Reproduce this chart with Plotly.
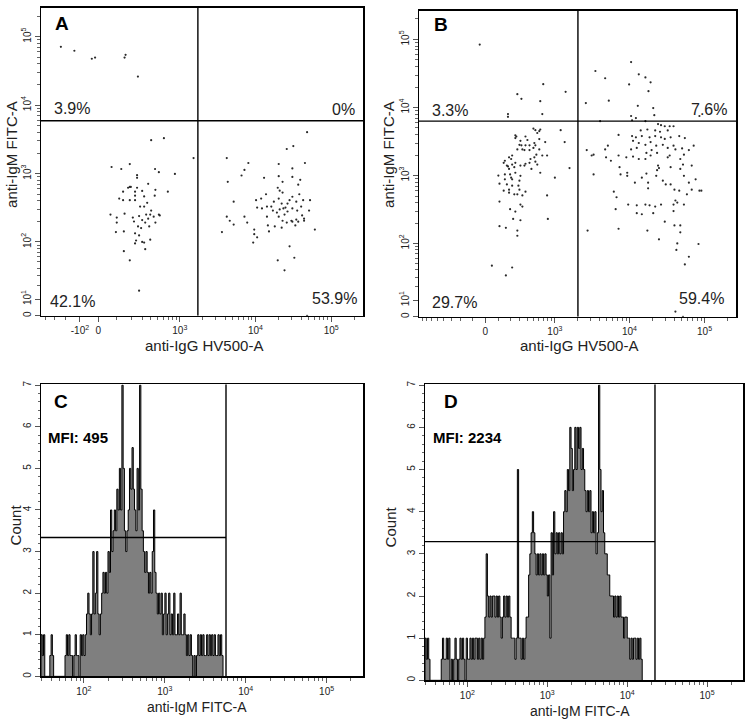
import numpy as np
import plotly.graph_objects as go

W, H = 747, 728
FONT = "Liberation Sans, Arial, Helvetica, sans-serif"

# ---------------- data ----------------
# Panel A: anti-IgG HV500-A (x) vs anti-IgM FITC-A (y)
a_x = [-238, -135, -34, -17, 150, 157, 257,
       405, 610, 1525, 70, 128, 188, 249, 460, 520, 860,
       64, 95, 100, 100, 115, 140, 140, 150, 175, 188,
       196, 188, 145, 145, 188, 212, 222, 231, 231, 231,
       249, 249, 258, 268, 268, 288, 299, 278, 299, 320,
       320, 320, 231, 240, 332, 332, 343, 355, 367, 367,
       380, 393, 393, 405, 440, 455, 465, 465, 520, 535,
       690, 268, 299, 231,
       48000, 31600, 25900, 4190, 8070, 45000, 7170, 20300, 6560, 30700,
       13000, 20300, 30700, 39000, 4320, 22800, 36700, 19700, 20900, 22800,
       13800, 11900, 10200, 5170, 17500, 20300, 30700, 37900, 52500, 42600,
       10540, 12200, 14200, 16200, 22200, 28200, 34600, 40100, 51000, 19200,
       23400, 24900, 20900, 26500, 30700, 35600, 41300, 43800, 34600, 29800,
       24200, 20300, 22800, 25900, 30700, 36700, 43800, 14200, 14600, 18000,
       22200, 4190, 4590, 5170, 7170, 7800, 9650, 9650, 10540, 9350,
       15100, 3620, 60800, 28200, 32600, 19700, 24200, 33600, 26500, 17000,
       48000]
a_y = [71100, 62200, 47600, 49500, 49500, 54300, 26100,
       3080, 3300, 1690, 1250, 1170, 1380, 950, 1170, 1050, 990,
       252, 140, 228, 193, 432, 545, 410, 260, 622, 640,
       640, 410, 143, 73, 53, 228, 200, 545, 477, 410,
       870, 622, 169, 240, 125, 160, 560, 330, 210, 465,
       330, 98, 95, 105, 78, 193, 252, 375, 711, 220,
       169, 108, 252, 289, 235, 477, 580, 193, 252, 245,
       545, 16, 100, 134,
       4030, 2530, 2290, 1690, 1430, 1430, 1134, 1384, 940, 1190,
       870, 920, 897, 812, 760, 760, 690, 622, 565, 530,
       500, 432, 410, 390, 390, 432, 460, 500, 410, 410,
       320, 310, 330, 330, 365, 410, 390, 330, 289, 270,
       310, 320, 300, 280, 310, 289, 245, 205, 213, 205,
       252, 235, 205, 193, 199, 199, 220, 235, 175, 169,
       162, 235, 205, 180, 235, 193, 152, 130, 117, 98,
       143, 140, 152, 86, 58, 53, 37, 175, 365, 289,
       0]

# Panel B
b_x = [-41, 276, 324, 690, 626, 1400, 181, 669, 181,
       254, 265, 254, 377, 404, 498, 532, 606, 626, 567,
       312, 300, 324, 276, 336, 377, 363, 435, 435, 514,
       498, 532, 606, 735, 606, 550, 514, 450, 669, 781,
       221, 191, 153, 211, 171, 221, 254, 363, 435, 191,
       254, 211, 300, 312, 465, 626, 1000, 1200, 1360, 1580,
       532, 143, 181, 243, 312, 377, 567, 99, 153, 201,
       153, 221, 108, 171, 221, 288, 143, 191, 243, 276,
       300, 336, 377, 191, 108, 312, 336, 201, 254, 231,
       312, 108, 162, 276, 276, 781, 800, 49, 221, 162,
       10500, 3510, 4740, 13300, 16300, 19100, 9890, 17900, 2617, 5300,
       12900, 20700, 21400, 10500, 12170, 10820, 16300, 4060, 85400,
       24000, 26300, 29500, 34300, 38600, 14100, 17300, 22000, 25500, 32300,
       7150, 10820, 12170, 14600, 18500, 22000, 26300, 29500, 35300, 46000,
       54600, 11150, 13300, 16300, 19100, 22700, 27800, 32300, 38600, 50200,
       71600, 10500, 12500, 16800, 19700, 23300, 34300, 40900, 53100, 61800,
       2690, 3130, 3320, 4740, 5150, 4870, 5650, 7150, 9070, 11150,
       13300, 16300, 19100, 24000, 24700, 32300, 35300, 47500, 51600, 67400,
       7370, 7600, 9330, 9330, 3320, 11800, 14600, 16800, 17700, 17700,
       22700, 23300, 27800, 30400, 35300, 39700, 46000, 47500, 53100, 61800,
       67400, 76000, 85400, 90600, 58200, 53100, 6180, 6720, 6540, 9610,
       12500, 14600, 16300, 18500, 22000, 26300, 38600, 40900, 43300, 12500,
       20700, 38600, 29500, 39700, 47500, 47500, 2760, 7150, 17300, 24700,
       43300, 42100, 83000, 61800, 54600, 40900, 51600]
b_y = [84000, 15700, 13400, 22000, 12400, 17000, 8000, 8000, 7300,
       3900, 3750, 3550, 3750, 3330, 4900, 4650, 4500, 4750, 4220,
       3240, 2830, 2780, 2420, 2420, 2780, 2370, 2780, 2370, 3010,
       2550, 2780, 3440, 3100, 2420, 2030, 1850, 1750, 1970, 1970,
       1970, 1850, 1650, 1750, 1400, 1450, 1540, 1400, 1540, 1250,
       1100, 930, 840, 990, 1250, 1100, 930, 4650, 3100, 1290,
       1600, 1540, 1360, 1330, 1400, 1490, 1450, 1000, 1040, 1040,
       880, 880, 760, 740, 710, 710, 600, 561, 530, 530,
       620, 510, 580, 620, 415, 375, 350, 320, 295, 230,
       220, 180, 170, 155, 130, 510, 230, 46, 43, 32,
       46500, 34400, 26900, 30700, 27700, 23400, 21800, 17400, 11600, 12600,
       10600, 9800, 7700, 7500, 7000, 6500, 6300, 6300, 7500,
       5700, 5500, 5300, 5300, 5300, 4600, 4750, 4600, 4400, 4600,
       3950, 3800, 3650, 3800, 3650, 3800, 3650, 3450, 3650, 3800,
       3550, 3240, 3010, 2830, 3100, 2750, 2830, 2550, 2750, 2500,
       2750, 2420, 2550, 2150, 2370, 2150, 1970, 2420, 2030, 2370,
       2370, 1970, 2030, 2420, 2750, 1850, 1650, 1970, 1850, 1900,
       1750, 1750, 1970, 1400, 1290, 1850, 1330, 1750, 1450, 1400,
       1330, 1040, 1100, 990, 1040, 785, 930, 1070, 785, 650,
       990, 1200, 840, 740, 740, 620, 600, 1250, 990, 785,
       620, 880, 600, 600, 530, 375, 580, 480, 320, 375,
       365, 270, 375, 365, 350, 375, 375, 430, 401, 280,
       280, 300, 210, 185, 185, 146, 155, 165, 155, 115,
       100, 80, 98, 63, 48, 3, 0]

a_gate_x, a_gate_y = 1740, 5930
b_gate_x, b_gate_y = 2050, 6310
a_pct = ["3.9%", "0%", "42.1%", "53.9%"]
b_pct = ["3.3%", "7.6%", "29.7%", "59.4%"]

# Panels C / D: histogram counts of anti-IgM FITC-A, 64 bins per decade from 29.5
hist_lo = 29.5
bins_per_decade = 64
c_counts = [1, 0.5, 1, 0, 0, 0, 0, 0.5, 1, 0.5,
            0, 0, 0, 0, 0, 0, 0, 0, 0, 0.5,
            1, 0.5, 1, 0.5, 0.5, 0, 0.5, 1, 0.5, 0.5,
            0, 1, 0.5, 1, 0.5, 1, 1.5, 2, 1.5, 1,
            1.5, 3, 1.5, 2, 3, 1.5, 1, 1.5, 2, 2.5,
            2, 2.5, 2, 3, 2.5, 4, 3, 3.5, 4, 3.5,
            4.5, 4, 5, 4, 7, 5, 3.5, 3, 3.5, 4,
            5, 4.5, 5.5, 4.5, 4, 3.5, 5, 4, 7, 4.5,
            3.5, 3, 2.5, 3, 2.5, 2, 2.5, 2, 3, 4,
            2.5, 2, 1.5, 2, 1.5, 2, 1, 1.5, 2, 1,
            1.5, 2, 1, 1.5, 1, 2, 1, 1, 1.5, 1,
            2, 1, 1, 1.5, 1, 0.5, 1, 0.5, 1, 0.5,
            0, 0.5, 0, 0.5, 1, 0.5, 1, 0.5, 1, 0.5,
            0.5, 1, 0.5, 1, 0.5, 1, 0.5, 1, 0.5, 0.5,
            1, 0.5, 1, 0.5]
d_counts = [1, 0.5, 1, 0.5, 0, 0, 0, 0, 0, 0,
            0, 0, 0, 0.5, 1, 0.5, 0.5, 1, 0.5, 1,
            0, 0.5, 0, 0.5, 1, 0.5, 0, 0.5, 1, 0.5,
            1, 0.5, 0, 1, 0.5, 0.5, 1, 0.5, 1, 0.5,
            1, 1, 0.5, 1, 0.5, 1, 0.5, 1, 1.5, 3,
            2, 1.5, 2, 1.5, 2, 2, 1.5, 2, 1.5, 2,
            1.5, 1, 1.5, 2, 1.5, 2, 1.5, 2, 1.5, 1,
            1, 1, 0.5, 1, 5, 1, 1, 0.5, 1, 0.5,
            1, 1.5, 1.5, 2.5, 3, 3.5, 4, 3.5, 3, 2.5,
            3, 2.5, 3, 2.5, 3, 2.5, 3, 2.5, 2, 2.5,
            1, 3.5, 2.5, 4, 3, 3.5, 3, 3.5, 3, 3.5,
            3, 4, 4.5, 4, 5, 4.5, 6, 5.5, 4.5, 5,
            6, 5, 6, 5.5, 6, 5, 5.5, 5, 4.5, 4,
            4.5, 4, 4.5, 3.5, 4, 3.5, 4, 3, 3.5, 7,
            5, 4, 4.5, 3.5, 3, 3, 2.5, 2.5, 2, 2,
            2, 1.5, 2, 1.5, 2, 1.5, 2, 1.5, 1.5, 1,
            1.5, 1.5, 1, 1, 0.5, 1, 0.5, 1, 1, 0.5,
            1, 0.5, 1, 0.5]
c_gate_x, c_gate_y = 5710, 3.34
d_gate_x, d_gate_y = 22300, 3.29
c_mfi, d_mfi = "MFI: 495", "MFI: 2234"

# ---------------- scales ----------------
def biex(v, c):
    return np.arcsinh(np.asarray(v, dtype=float) / (2 * c)) / np.log(10)

AX_C, BX_C, SY_C = 85.0, 120.0, 8.4
AX_LO, BX_LO, TOP = -470, -900, 262144
HIST_RANGE = [1.47, 5.45]


def sup(k):
    return "10<sup>%d</sup>" % k


def px_x(p):
    return p / W


def px_y(p):
    return 1 - p / H


fig = go.Figure()

dot = dict(size=2.2, color="#2a2a2a")
fig.add_trace(go.Scatter(x=biex(a_x, AX_C), y=biex(a_y, SY_C), mode="markers",
                         marker=dot, xaxis="x", yaxis="y", hoverinfo="skip"))
fig.add_trace(go.Scatter(x=biex(b_x, BX_C), y=biex(b_y, SY_C), mode="markers",
                         marker=dot, xaxis="x2", yaxis="y2", hoverinfo="skip"))

gl = dict(color="black", width=1.4)
for gx, gy, cx, xa, ya, lo in [(a_gate_x, a_gate_y, AX_C, "x", "y", AX_LO),
                               (b_gate_x, b_gate_y, BX_C, "x2", "y2", BX_LO)]:
    fig.add_trace(go.Scatter(x=[biex(gx, cx)] * 2, y=[biex(0, SY_C), biex(TOP, SY_C)],
                             mode="lines", line=gl, xaxis=xa, yaxis=ya, hoverinfo="skip"))
    fig.add_trace(go.Scatter(x=[biex(lo, cx), biex(TOP, cx)], y=[biex(gy, SY_C)] * 2,
                             mode="lines", line=gl, xaxis=xa, yaxis=ya, hoverinfo="skip"))

for counts, xa, ya, gx, gy in [(c_counts, "x3", "y3", c_gate_x, c_gate_y),
                               (d_counts, "x4", "y4", d_gate_x, d_gate_y)]:
    n = len(counts)
    edges = hist_lo * 10 ** (np.arange(n + 1) / bins_per_decade)
    xs = [edges[0]] + list(edges)
    ys = [0] + list(counts) + [0]
    fig.add_trace(go.Scatter(x=xs, y=ys, mode="lines", line_shape="hv",
                             line=dict(color="black", width=1), fill="tozeroy",
                             fillcolor="#7f7f7f", xaxis=xa, yaxis=ya, hoverinfo="skip"))
    fig.add_trace(go.Scatter(x=[gx, gx], y=[0, 7.02], mode="lines", line=gl,
                             xaxis=xa, yaxis=ya, hoverinfo="skip"))
    fig.add_trace(go.Scatter(x=[10 ** HIST_RANGE[0], gx], y=[gy, gy], mode="lines", line=gl,
                             xaxis=xa, yaxis=ya, hoverinfo="skip"))

tickfont = dict(family=FONT, size=10, color="#222")
base = dict(showline=True, linecolor="black", linewidth=1.5, mirror=True,
            ticks="outside", ticklen=5, tickwidth=1, tickcolor="#555",
            showgrid=False, zeroline=False, tickfont=tickfont, fixedrange=True)

dec_minor = [m * 10 ** k for k in range(1, 5) for m in range(2, 10)] + [200000]
hist_minor = [m * 10 ** k for k in range(1, 5) for m in range(2, 10)] + [200000]
ax_minor = [-400, -300, -200] + [m * 100 for m in range(1, 10)] + \
           [m * 10 ** k for k in range(3, 5) for m in range(2, 10)] + [200000]
bx_minor = [-800, -700, -600, -500, -400, -300, -200, -100] + [m * 100 for m in range(1, 10)] + \
           [m * 10 ** k for k in range(3, 5) for m in range(2, 10)] + [200000]

minor_style = dict(ticks="outside", ticklen=3, tickcolor="#666", tickwidth=1, showgrid=False)

y_scatter = dict(base, range=[biex(0, SY_C), biex(TOP, SY_C)],
                 tickvals=list(biex([0, 10, 100, 1000, 1e4, 1e5], SY_C)),
                 ticktext=["0", sup(1), sup(2), sup(3), sup(4), sup(5)], tickangle=-90,
                 minor=dict(minor_style, tickvals=list(biex(dec_minor, SY_C))))

layout = dict(
    width=W, height=H, margin=dict(l=0, r=0, t=0, b=0, pad=0),
    paper_bgcolor="white", plot_bgcolor="white", showlegend=False,
    xaxis=dict(base, domain=[px_x(41), px_x(363)], anchor="y",
               range=[biex(AX_LO, AX_C), biex(TOP, AX_C)],
               tickvals=list(biex([-100, 0, 1000, 1e4, 1e5], AX_C)),
               ticktext=["-10<sup>2</sup>", "0", sup(3), sup(4), sup(5)],
               minor=dict(minor_style, tickvals=list(biex(ax_minor, AX_C)))),
    yaxis=dict(y_scatter, domain=[px_y(314), px_y(4)], anchor="x"),
    xaxis2=dict(base, domain=[px_x(419), px_x(736)], anchor="y2",
                range=[biex(BX_LO, BX_C), biex(TOP, BX_C)],
                tickvals=list(biex([0, 1000, 1e4, 1e5], BX_C)),
                ticktext=["0", sup(3), sup(4), sup(5)],
                minor=dict(minor_style, tickvals=list(biex(bx_minor, BX_C)))),
    yaxis2=dict(y_scatter, domain=[px_y(315), px_y(7)], anchor="x2"),
    xaxis3=dict(base, type="log", domain=[px_x(41), px_x(363)], anchor="y3",
                range=HIST_RANGE, tickvals=[100, 1000, 1e4, 1e5],
                ticktext=[sup(2), sup(3), sup(4), sup(5)],
                minor=dict(minor_style, tickvals=hist_minor)),
    yaxis3=dict(base, domain=[px_y(677), px_y(383)], anchor="x3", range=[0, 7.02],
                tickvals=list(range(8)), tickangle=-90,
                minor=dict(minor_style, ticklen=2, dtick=0.2)),
    xaxis4=dict(base, type="log", domain=[px_x(425), px_x(743)], anchor="y4",
                range=HIST_RANGE, tickvals=[100, 1000, 1e4, 1e5],
                ticktext=[sup(2), sup(3), sup(4), sup(5)],
                minor=dict(minor_style, tickvals=hist_minor)),
    yaxis4=dict(base, domain=[px_y(681), px_y(383)], anchor="x4", range=[0, 7.02],
                tickvals=list(range(8)), tickangle=-90,
                minor=dict(minor_style, ticklen=2, dtick=0.2)),
)
fig.update_layout(**layout)


def note(text, x, y, size=16, bold=False, xanchor="center", angle=0, color="#222"):
    fig.add_annotation(text="<b>%s</b>" % text if bold else text,
                       x=px_x(x), y=px_y(y), xref="paper", yref="paper",
                       showarrow=False, xanchor=xanchor, yanchor="middle",
                       textangle=angle, font=dict(family=FONT, size=size, color=color))


note("A", 53, 20, size=19, bold=True, xanchor="left", color="black")
note("B", 432, 21, size=19, bold=True, xanchor="left", color="black")
note("C", 52, 400, size=19, bold=True, xanchor="left", color="black")
note("D", 442, 400, size=19, bold=True, xanchor="left", color="black")

note(a_pct[0], 52, 105, xanchor="left")
note(a_pct[1], 357, 106, xanchor="right")
note(a_pct[2], 48, 300, xanchor="left")
note(a_pct[3], 359, 297, xanchor="right")
note(b_pct[0], 430, 107, xanchor="left")
note(b_pct[1], 729, 106, xanchor="right")
note(b_pct[2], 430, 301, xanchor="left")
note(b_pct[3], 726, 297, xanchor="right")

note(c_mfi, 46, 437, size=15, bold=True, xanchor="left", color="black")
note(d_mfi, 431, 437, size=15, bold=True, xanchor="left", color="black")

note("anti-IgM FITC-A", 12, 152, size=15, angle=-90)
note("anti-IgM FITC-A", 389, 152, size=15, angle=-90)
note("anti-IgG HV500-A", 204, 344, size=15)
note("anti-IgG HV500-A", 579, 344, size=15)
note("Count", 15, 525, size=15, angle=-90)
note("Count", 390, 527, size=15, angle=-90)
note("anti-IgM FITC-A", 197, 708, size=14)
note("anti-IgM FITC-A", 580, 712, size=14)

fig.write_html("out.html", config={"displayModeBar": False, "staticPlot": True},
               post_script="document.body.style.margin='0px';")
